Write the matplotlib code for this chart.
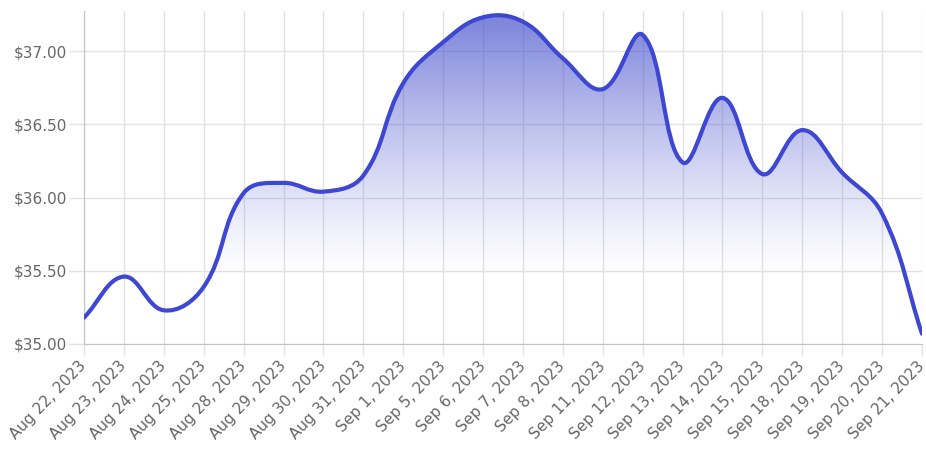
import numpy as np
import matplotlib
matplotlib.use('Agg')
import matplotlib.pyplot as plt
import matplotlib.transforms as mtransforms
from matplotlib.patches import PathPatch
from matplotlib.path import Path
from matplotlib.ticker import FuncFormatter, MultipleLocator

### data
dates = ['Aug 22, 2023', 'Aug 23, 2023', 'Aug 24, 2023', 'Aug 25, 2023', 'Aug 28, 2023',
         'Aug 29, 2023', 'Aug 30, 2023', 'Aug 31, 2023', 'Sep 1, 2023', 'Sep 5, 2023',
         'Sep 6, 2023', 'Sep 7, 2023', 'Sep 8, 2023', 'Sep 11, 2023', 'Sep 12, 2023',
         'Sep 13, 2023', 'Sep 14, 2023', 'Sep 15, 2023', 'Sep 18, 2023', 'Sep 19, 2023',
         'Sep 20, 2023', 'Sep 21, 2023']
prices = [35.18, 35.46, 35.23, 35.39, 36.03, 36.10, 36.04, 36.15, 36.78, 37.06,
          37.23, 37.20, 36.95, 36.74, 37.11, 36.24, 36.68, 36.16, 36.46, 36.17,
          35.89, 35.07]

LINE = '#3d47d2'
FILL_TOP = (0.27, 0.31, 0.80)
TEXT = '#666666'
GRID = '#e2e2e2'
TENSION = 0.4
Y_MIN, Y_MAX = 35.0, 37.0 + 40 / 146.5


def spline_controls(pts, t):
    '''chart.js style bezier control points, computed in display space'''
    n = len(pts)
    cp_prev = np.copy(pts)
    cp_next = np.copy(pts)
    for i in range(n):
        p0 = pts[max(i - 1, 0)]
        p1 = pts[i]
        p2 = pts[min(i + 1, n - 1)]
        d01 = np.hypot(*(p1 - p0))
        d12 = np.hypot(*(p2 - p1))
        tot = d01 + d12
        s01 = d01 / tot if tot else 0
        s12 = d12 / tot if tot else 0
        cp_prev[i] = p1 - t * s01 * (p2 - p0)
        cp_next[i] = p1 + t * s12 * (p2 - p0)
    return cp_prev, cp_next


fig = plt.figure(figsize=(9.26, 4.5), dpi=100)
ax = fig.add_axes([84 / 926, (450 - 344) / 450, (922 - 84) / 926, (344 - 11) / 450])

x = np.arange(len(dates))
y = np.array(prices)
ax.set_xlim(0, len(dates) - 1)
ax.set_ylim(Y_MIN, Y_MAX)

# build the smooth path in pixels, then back to data coords
pts = ax.transData.transform(np.column_stack([x, y]))
cp_prev, cp_next = spline_controls(pts, TENSION)
verts = [pts[0]]
codes = [Path.MOVETO]
for i in range(len(pts) - 1):
    verts += [cp_next[i], cp_prev[i + 1], pts[i + 1]]
    codes += [Path.CURVE4] * 3
inv = ax.transData.inverted()
verts = inv.transform(np.array(verts))

# gradient fill under the curve (fades out before reaching the bottom)
fill_verts = np.vstack([verts, [[x[-1], Y_MIN], [x[0], Y_MIN], verts[0]]])
fill_codes = codes + [Path.LINETO, Path.LINETO, Path.CLOSEPOLY]
fill_patch = PathPatch(Path(fill_verts, fill_codes), facecolor='none', edgecolor='none')
ax.add_patch(fill_patch)
t = np.linspace(0, 1, 256)
grad = np.zeros((256, 1, 4))
grad[:, 0, 0:3] = FILL_TOP
grad[:, 0, 3] = 0.72 * np.clip(1 - t / 0.8, 0, 1) ** 1.25
img = ax.imshow(grad, aspect='auto', extent=[0, len(dates) - 1, Y_MIN, Y_MAX], origin='upper',
                interpolation='bilinear', zorder=1)
img.set_clip_path(fill_patch)

line = PathPatch(Path(verts, codes), facecolor='none', edgecolor=LINE, lw=3, zorder=3,
                 capstyle='round', joinstyle='round')
ax.add_patch(line)

# axes styling
ax.set_xticks(x)
ax.set_xticklabels(dates, rotation=46, ha='right', va='center', rotation_mode='anchor')
shift = mtransforms.ScaledTranslation(-2 / 100, 0, fig.dpi_scale_trans)
for lab in ax.get_xticklabels():
    lab.set_transform(lab.get_transform() + shift)
ax.yaxis.set_major_locator(MultipleLocator(0.5))
ax.yaxis.set_major_formatter(FuncFormatter(lambda v, p: f'${v:.2f}'))
ax.grid(True, color=GRID, lw=1)
ax.set_axisbelow(True)
ax.tick_params(axis='both', colors=GRID, width=1, labelcolor=TEXT, labelsize=11)
ax.tick_params(axis='x', length=8, pad=6)
ax.tick_params(axis='y', length=11, pad=1)
for side in ['top', 'right']:
    ax.spines[side].set_visible(False)
for side in ['left', 'bottom']:
    ax.spines[side].set_color('#c4c4c4')

fig.savefig('out.png', dpi=100)
